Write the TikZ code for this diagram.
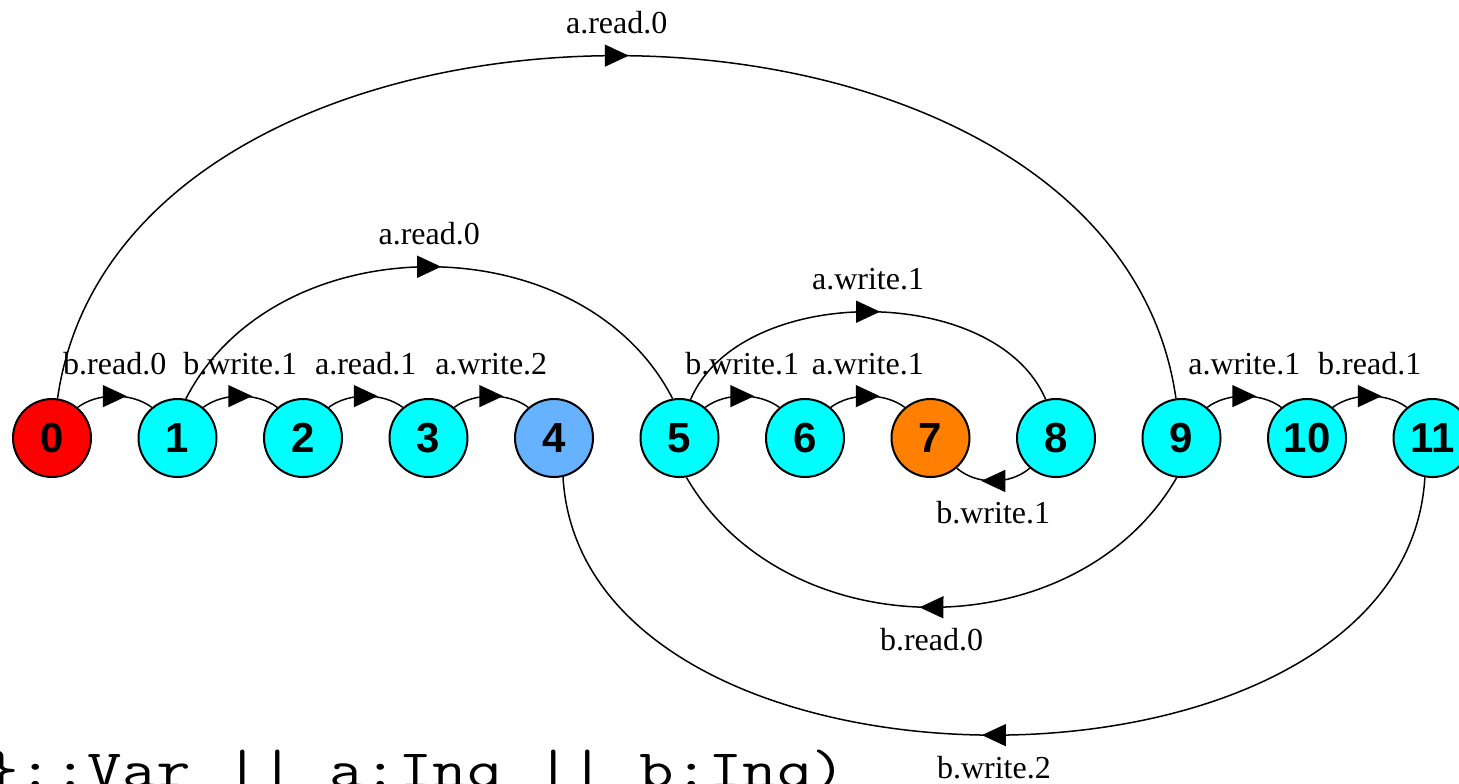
\documentclass[tikz,border=0pt]{standalone}
\usepackage{fontspec}
\setmainfont{Liberation Serif}
\newfontfamily\statefont{Liberation Sans}
\newfontfamily\codefont[FakeStretch=1.24]{Latin Modern Mono}
\usetikzlibrary{arrows.meta,decorations.markings}
\definecolor{statered}{RGB}{255,0,0}
\definecolor{statecyan}{RGB}{0,255,255}
\definecolor{stateblue}{RGB}{102,178,255}
\definecolor{stateorange}{RGB}{255,128,0}
\begin{document}
\begin{tikzpicture}[x=0.5pt,y=0.5pt,
  state/.style={circle,draw=black,line width=1pt,minimum size=39pt,inner sep=0pt,
    font=\statefont\bfseries\fontsize{21}{21}\selectfont,fill=statecyan},
  trans/.style={line width=0.75pt,postaction={decorate},
    decoration={markings,mark=at position 0.5 with
      {\arrow[xshift=6pt]{Triangle[length=12pt,width=11pt]}}}},
  lbl/.style={font=\fontsize{16}{16}\selectfont,anchor=base,inner sep=0pt},
  lblup/.style={lbl,yshift=11pt},
  lbldown/.style={lbl,yshift=-21.5pt}]
\useasboundingbox (0,0) rectangle (1459,-783);

% states of the composed system
\foreach \i/\c in {0/statered,1/statecyan,2/statecyan,3/statecyan,4/stateblue,
  5/statecyan,6/statecyan,7/stateorange,8/statecyan,9/statecyan,10/statecyan,11/statecyan}
  \node[state,fill=\c] (n\i) at ({52+125.5*\i},-438) {\i};

% transitions between neighbouring states
\draw[trans] (n0.50)  .. controls +(20,15) and +(-20,15) .. (n1.130)  node[lblup,pos=0.5] {b.read.0};
\draw[trans] (n1.50)  .. controls +(20,15) and +(-20,15) .. (n2.130)  node[lblup,pos=0.5] {b.write.1};
\draw[trans] (n2.50)  .. controls +(20,15) and +(-20,15) .. (n3.130)  node[lblup,pos=0.5] {a.read.1};
\draw[trans] (n3.50)  .. controls +(20,15) and +(-20,15) .. (n4.130)  node[lblup,pos=0.5] {a.write.2};
\draw[trans] (n5.50)  .. controls +(20,15) and +(-20,15) .. (n6.130)  node[lblup,pos=0.5] {b.write.1};
\draw[trans] (n6.50)  .. controls +(20,15) and +(-20,15) .. (n7.130)  node[lblup,pos=0.5] {a.write.1};
\draw[trans] (n9.50)  .. controls +(20,15) and +(-20,15) .. (n10.130) node[lblup,pos=0.5] {a.write.1};
\draw[trans] (n10.50) .. controls +(20,15) and +(-20,15) .. (n11.130) node[lblup,pos=0.5] {b.read.1};

% long transitions above the row
\draw[trans] (n0.82) .. controls +(65,457) and +(-65,457) .. (n9.98)  node[lblup,pos=0.5] {a.read.0};
\draw[trans] (n1.78) .. controls +(90,176) and +(-90,176) .. (n5.100) node[lblup,pos=0.5] {a.read.0};
\draw[trans] (n5.74) .. controls +(50,117) and +(-50,117) .. (n8.105) node[lblup,pos=0.5] {a.write.1};

% transitions below the row
\draw[trans] (n8.229)  .. controls +(-20,-17) and +(20,-17) .. (n7.311)   node[lbldown,pos=0.5] {b.write.1};
\draw[trans] (n9.263)  .. controls +(-100,-173) and +(100,-173) .. (n5.280) node[lbldown,pos=0.5] {b.read.0};
\draw[trans] (n11.259) .. controls +(-20,-344) and +(20,-344) .. (n4.283)  node[lbldown,pos=0.5] {b.write.2};

% composition expression
\node[font=\codefont\fontsize{27}{27}\selectfont,anchor=base west,inner sep=0pt]
  (expr) at (-16,-787) {\}::Var || a:Inq || b:Inq)};
\end{tikzpicture}
\end{document}
